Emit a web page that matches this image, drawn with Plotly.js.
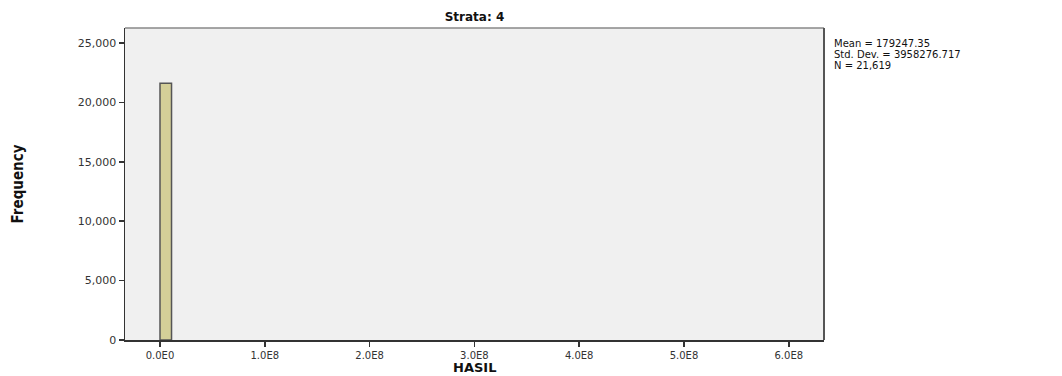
<!DOCTYPE html>
<html><head><meta charset="utf-8">
<script src="https://cdn.plot.ly/plotly-3.0.1.min.js"></script>
<style>html,body{margin:0;padding:0;background:#fff}#chart{width:1062px;height:376px}</style>
</head><body><div id="chart"></div>
<script>
// Histogram bins (HASIL values) and frequencies
const binStarts = [0];
const binEnds = [11000000];
const counts = [21600];
const xTickVals = [0, 1e8, 2e8, 3e8, 4e8, 5e8, 6e8];
const xTickText = ["0.0E0", "1.0E8", "2.0E8", "3.0E8", "4.0E8", "5.0E8", "6.0E8"];
const yTickVals = [0, 5000, 10000, 15000, 20000, 25000];
const statsLines = ["Mean = 179247.35", "Std. Dev. = 3958276.717", "N = 21,619"];
const chartTitle = "Strata: 4";
const xLabel = "HASIL";
const yLabel = "Frequency";

const centers = binStarts.map((s, i) => (s + binEnds[i]) / 2);
const widths = binStarts.map((s, i) => binEnds[i] - s);

const wideFont = 'DejaVu Sans, Verdana, sans-serif';
const plotH = 312;

const annotations = statsLines.map((t, i) => ({
  text: t, xref: 'paper', yref: 'paper', x: 1.012, xanchor: 'left',
  y: 1 - (15 + i * 11) / plotH, yanchor: 'middle', showarrow: false,
  font: {family: wideFont, size: 10, color: '#111'}
}));
annotations.push({
  text: '<b>' + xLabel + '</b>', xref: 'paper', yref: 'paper', x: 0.5, xanchor: 'center',
  y: -(367 - 340) / plotH, yanchor: 'middle', showarrow: false,
  font: {family: wideFont, size: 13, color: '#111'}
});

const trace = {
  type: 'bar', x: centers, y: counts, width: widths,
  marker: {color: '#d4cf98', line: {color: '#555555', width: 1.5}},
  hoverinfo: 'skip'
};

const layout = {
  width: 1062, height: 376,
  margin: {l: 125, r: 238, t: 28, b: 36},
  paper_bgcolor: '#ffffff', plot_bgcolor: '#f0f0f0',
  showlegend: false,
  title: {text: '<b>' + chartTitle + '</b>', x: 0.4468, xanchor: 'center', y: 0.955, yanchor: 'middle',
    font: {family: wideFont, size: 12, color: '#111'}},
  xaxis: {
    range: [-0.334e8, 6.336e8], tickvals: xTickVals, ticktext: xTickText,
    ticks: 'outside', ticklen: 5, tickwidth: 1.5, tickcolor: '#333',
    showline: true, linecolor: '#333', linewidth: 1.5, showgrid: false, zeroline: false,
    tickfont: {family: wideFont, size: 10, color: '#333'}
  },
  yaxis: {
    range: [0, 26260], tickvals: yTickVals, tickformat: ',d',
    ticks: 'outside', ticklen: 5, tickwidth: 1.5, tickcolor: '#333',
    showline: true, linecolor: '#333', linewidth: 1.5, showgrid: false, zeroline: false,
    tickfont: {family: wideFont, size: 11, color: '#333'},
    title: {text: '<b>' + yLabel + '</b>', standoff: 50,
      font: {family: 'DejaVu Sans Condensed, Liberation Sans Narrow, sans-serif', size: 15, color: '#111'}}
  },
  annotations: annotations,
  shapes: [
    {type: 'line', xref: 'paper', yref: 'paper', x0: 0, x1: 1, y0: 1, y1: 1, line: {color: '#888', width: 1.5}},
    {type: 'line', xref: 'paper', yref: 'paper', x0: 1, x1: 1, y0: 0, y1: 1, line: {color: '#555', width: 2}}
  ]
};

Plotly.newPlot('chart', [trace], layout, {displayModeBar: false, staticPlot: true});
</script></body></html>
